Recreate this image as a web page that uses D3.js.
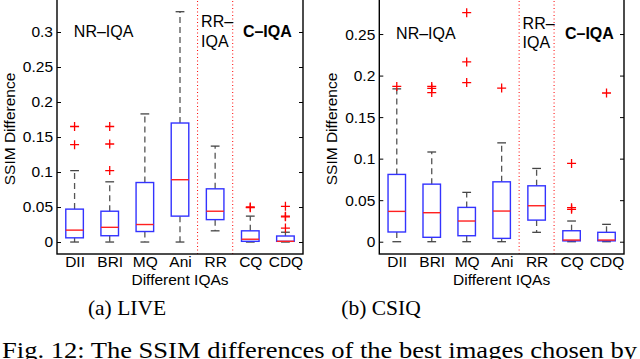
<!DOCTYPE html>
<html lang="en">
<head>
<meta charset="UTF-8">
<title>SSIM differences boxplots</title>
<script src="https://d3js.org/d3.v7.min.js"></script>
<style>
  body { margin: 0; background: #fff; }
  svg { display: block; }
  .tick text { font-family: "Liberation Sans", Arial, sans-serif; font-size: 15.5px; fill: #000; }
</style>
</head>
<body>
<svg id="chart" width="640" height="359"></svg>
<script>
// categories
const cats = ["DII", "BRI", "MQ", "Ani", "RR", "CQ", "CDQ"];

// LIVE (a)
const liveQ1  = [0.006, 0.009, 0.015, 0.037, 0.032, 0.001, 0.001];
const liveMed = [0.017, 0.021, 0.025, 0.089, 0.044, 0.004, 0.001];
const liveQ3  = [0.047, 0.044, 0.085, 0.170, 0.076, 0.016, 0.0086];
const liveLo  = [0, 0, 0, 0, 0.016, 0, 0];
const liveHi  = [0.102, 0.086, 0.183, 0.329, 0.137, 0.037, 0.014];
const liveOut = [[0.165, 0.139], [0.165, 0.140, 0.102], [], [], [], [0.050, 0.049], [0.051, 0.037, 0.036, 0.020]];
const liveTicks = [0, 0.05, 0.1, 0.15, 0.2, 0.25, 0.3];

// CSIQ (b)
const csiqQ1  = [0.0117, 0.0053, 0.0072, 0.004, 0.026, 0.001, 0.001];
const csiqMed = [0.0365, 0.0349, 0.0249, 0.0369, 0.0433, 0.002, 0.002];
const csiqQ3  = [0.081, 0.0693, 0.0413, 0.0721, 0.0673, 0.0132, 0.0113];
const csiqLo  = [0, 0, 0, 0, 0.0113, 0, 0];
const csiqHi  = [0.184, 0.108, 0.0594, 0.119, 0.0882, 0.0249, 0.0209];
const csiqOut = [[0.187], [0.187, 0.1847, 0.1795], [0.2757, 0.2164, 0.1916], [0.185], [], [0.0942, 0.041, 0.039], [0.179]];
const csiqTicks = [0, 0.05, 0.1, 0.15, 0.2, 0.25];

const svg = d3.select("#chart");
const sans = "'Liberation Sans', Arial, sans-serif";
const serif = "'Liberation Serif', 'Times New Roman', serif";

function panel(opt) {
  const x = d3.scaleLinear().domain([0.5, 7.5]).range([opt.left, opt.right]);
  const y = d3.scaleLinear().domain(opt.ydom).range([254, -3]);
  const g = svg.append("g");

  // separators
  [4.5, 5.5].forEach(v => {
    g.append("line")
      .attr("x1", x(v)).attr("x2", x(v)).attr("y1", y.range()[0]).attr("y2", y.range()[1])
      .attr("stroke", "#ff0000").attr("stroke-width", 1).attr("stroke-dasharray", "1,2.5");
  });

  const bw = x(1.25) - x(1); // half box width
  const cw = bw * 0.5;       // half cap width
  cats.forEach((c, i) => {
    const cx = x(i + 1);
    // whiskers
    [[opt.q3[i], opt.hi[i]], [opt.q1[i], opt.lo[i]]].forEach(([a, b]) => {
      if (Math.abs(a - b) < 1e-9) return;
      g.append("line").attr("x1", cx).attr("x2", cx).attr("y1", y(a)).attr("y2", y(b))
        .attr("stroke", "#555").attr("stroke-width", 1.3).attr("stroke-dasharray", "6,4");
    });
    [opt.hi[i], opt.lo[i]].forEach(v => {
      g.append("line").attr("x1", cx - cw).attr("x2", cx + cw).attr("y1", y(v)).attr("y2", y(v))
        .attr("stroke", "#444").attr("stroke-width", 1.3);
    });
    // box
    g.append("rect")
      .attr("x", cx - bw).attr("width", bw * 2)
      .attr("y", y(opt.q3[i])).attr("height", y(opt.q1[i]) - y(opt.q3[i]))
      .attr("fill", "none").attr("stroke", "#3333ff").attr("stroke-width", 1.4);
    // median
    g.append("line").attr("x1", cx - bw).attr("x2", cx + bw)
      .attr("y1", y(opt.med[i])).attr("y2", y(opt.med[i]))
      .attr("stroke", "#ff2020").attr("stroke-width", 1.4);
    // outliers
    opt.out[i].forEach(v => {
      const py = y(v);
      g.append("path").attr("d", `M${cx - 4.5},${py}H${cx + 4.5}M${cx},${py - 4.5}V${py + 4.5}`)
        .attr("stroke", "#ff0000").attr("stroke-width", 1.3).attr("fill", "none");
    });
  });

  // axes
  g.append("g").attr("transform", `translate(${opt.left},0)`)
    .call(d3.axisLeft(y).tickValues(opt.ticks).tickFormat(d3.format("")).tickSizeInner(-4).tickSizeOuter(0).tickPadding(4))
    .call(s => s.select(".domain").remove());
  g.append("g").attr("transform", `translate(${opt.right},0)`)
    .call(d3.axisRight(y).tickValues(opt.ticks).tickFormat("").tickSizeInner(-4).tickSizeOuter(0))
    .call(s => s.select(".domain").remove());
  g.append("g").attr("transform", "translate(0,254)")
    .call(d3.axisBottom(x).tickValues(d3.range(1, 8)).tickFormat(d => cats[d - 1]).tickSize(0).tickPadding(2))
    .call(s => s.select(".domain").remove());
  g.selectAll(".tick line").attr("stroke", "#000");

  g.append("rect").attr("x", opt.left).attr("y", -3).attr("width", opt.right - opt.left).attr("height", 257)
    .attr("fill", "none").attr("stroke", "#000").attr("stroke-width", 1.4);

  // labels
  g.append("text").attr("x", (opt.left + opt.right) / 2).attr("y", 285).attr("text-anchor", "middle")
    .attr("font-family", sans).attr("font-size", 15.5).text("Different IQAs");
  g.append("text").attr("transform", `translate(${opt.left - 42},129) rotate(-90)`).attr("text-anchor", "middle")
    .attr("font-family", sans).attr("font-size", 15.5).text("SSIM Difference");

  const ann = (tx, ty, s, bold) => g.append("text").attr("x", x(tx)).attr("y", y(ty))
    .attr("font-family", sans).attr("font-size", 16).attr("font-weight", bold ? "bold" : "normal").text(s);
  ann(opt.nr[0], opt.nr[1], "NR\u2013IQA");
  ann(opt.rr[0], opt.rr[1], "RR\u2013");
  ann(opt.rr[0], opt.rr[2], "IQA");
  ann(opt.c[0], opt.c[1], "C\u2013IQA", true);

  g.append("text").attr("x", opt.capX).attr("y", 315).attr("text-anchor", "middle")
    .attr("font-family", serif).attr("font-size", 21.5).text(opt.caption);
}

panel({
  left: 57, right: 303, ydom: [-0.0171, 0.35], ticks: liveTicks,
  q1: liveQ1, med: liveMed, q3: liveQ3, lo: liveLo, hi: liveHi, out: liveOut,
  nr: [0.98, 0.293], rr: [4.6, 0.307, 0.279], c: [5.79, 0.293],
  capX: 127, caption: "(a) LIVE"
});
panel({
  left: 379.3, right: 624, ydom: [-0.0148, 0.2946], ticks: csiqTicks,
  q1: csiqQ1, med: csiqMed, q3: csiqQ3, lo: csiqLo, hi: csiqHi, out: csiqOut,
  nr: [0.98, 0.2436], rr: [4.6, 0.2556, 0.2328], c: [5.81, 0.2436],
  capX: 381, caption: "(b) CSIQ"
});

svg.append("text").attr("x", 2).attr("y", 358).attr("textLength", 635).attr("lengthAdjust", "spacingAndGlyphs")
  .attr("font-family", serif).attr("font-size", 22.5)
  .text("Fig. 12: The SSIM differences of the best images chosen by");
</script>
</body>
</html>
